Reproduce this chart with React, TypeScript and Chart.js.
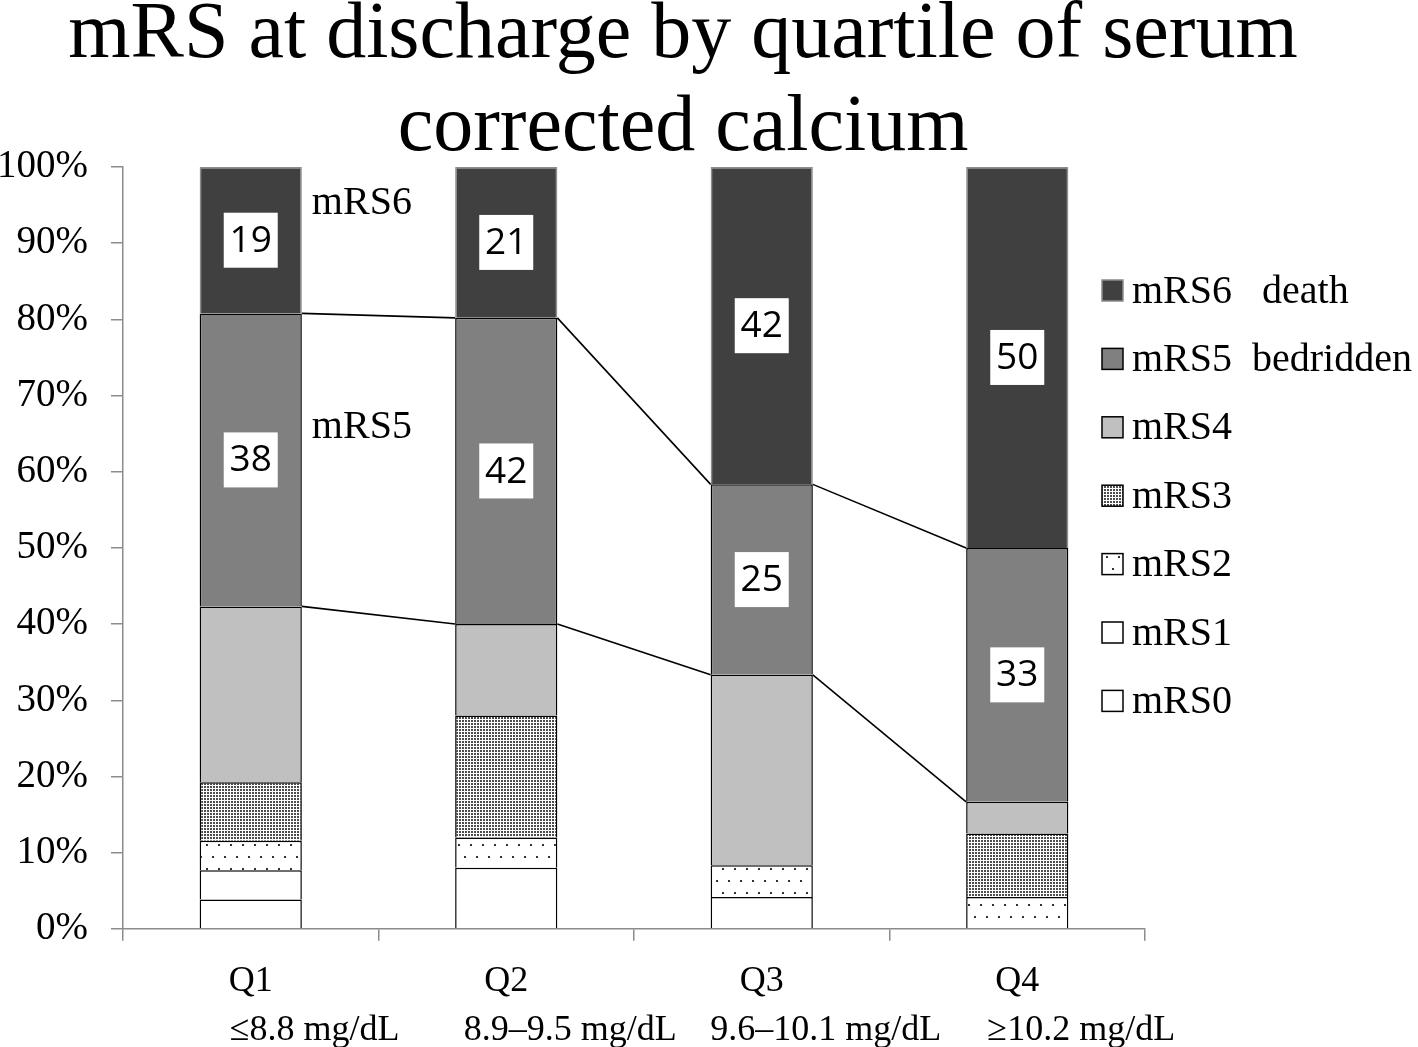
import React, { useEffect, useRef } from "react";
import { Chart, registerables } from "chart.js";

Chart.register(...registerables);

// ---------- data ----------
const categories = ["Q1", "Q2", "Q3", "Q4"];
const rangeLabels = ["≤8.8 mg/dL", "8.9–9.5 mg/dL", "9.6–10.1 mg/dL", "≥10.2 mg/dL"];
const titleLines = ["mRS at discharge by quartile of serum", "corrected calcium"];

const seriesNames = ["mRS0", "mRS1", "mRS2", "mRS3", "mRS4", "mRS5", "mRS6"];
const legendNames = ["mRS0", "mRS1", "mRS2", "mRS3", "mRS4", "mRS5  bedridden", "mRS6   death"];

// percentages of patients in each quartile
const mRS0 = [3.85, 8.0, 4.17, 0];
const mRS1 = [3.85, 0, 0, 0];
const mRS2 = [3.85, 4.0, 4.17, 4.17];
const mRS3 = [7.69, 16.0, 0, 8.33];
const mRS4 = [23.08, 12.0, 25.0, 4.17];
const mRS5 = [38.46, 40.2, 25.0, 33.33];
const mRS6 = [19.22, 19.8, 41.66, 50.0];

// numbers printed in the white boxes
const mRS5Labels = ["38", "42", "25", "33"];
const mRS6Labels = ["19", "21", "42", "50"];

// side annotations next to Q1 (y in %)
const annotationTexts = ["mRS6", "mRS5"];
const annotationValues = [95.2, 65.8];

const yMin = 0;
const yMax = 100;
const yStep = 10;

// ---------- styling ----------
const SERIF = "'Liberation Serif', 'Times New Roman', serif";
const SANS = "'Open Sans', 'Liberation Sans', sans-serif";
const AXIS_GRAY = "#8c8c8c";

function makePattern(kind: "dense" | "sparse"): CanvasPattern | string {
  const c = document.createElement("canvas");
  const g = c.getContext("2d");
  if (!g) return "#fff";
  if (kind === "dense") {
    c.width = 3;
    c.height = 3;
    g.fillStyle = "#ffffff";
    g.fillRect(0, 0, 3, 3);
    g.fillStyle = "#4d4d4d";
    g.fillRect(0, 0, 2, 2);
  } else {
    c.width = 12;
    c.height = 24;
    g.fillStyle = "#ffffff";
    g.fillRect(0, 0, 12, 24);
    g.fillStyle = "#333333";
    g.fillRect(2, 4, 2, 2);
    g.fillRect(8, 16, 2, 2);
  }
  const p = g.createPattern(c, "repeat");
  return p || "#fff";
}

const decorPlugin = {
  id: "decor",
  afterDatasetsDraw(chart: any) {
    const ctx: CanvasRenderingContext2D = chart.ctx;
    const yScale = chart.scales.y;
    const xScale = chart.scales.x;
    ctx.save();

    // connector lines between top of mRS4 and top of mRS5
    ctx.strokeStyle = "#000";
    ctx.lineWidth = 1.6;
    [4, 5].forEach((di) => {
      const meta = chart.getDatasetMeta(di);
      for (let j = 0; j < categories.length - 1; j++) {
        const a = meta.data[j];
        const b = meta.data[j + 1];
        ctx.beginPath();
        ctx.moveTo(a.x + a.width / 2, a.y);
        ctx.lineTo(b.x - b.width / 2, b.y);
        ctx.stroke();
      }
    });

    // value boxes
    const boxW = 54;
    const boxH = 55;
    const drawBoxes = (di: number, labels: string[]) => {
      const meta = chart.getDatasetMeta(di);
      meta.data.forEach((el: any, j: number) => {
        const cx = el.x;
        const cy = (el.y + el.base) / 2;
        ctx.fillStyle = "#ffffff";
        ctx.fillRect(cx - boxW / 2, cy - boxH / 2, boxW, boxH);
        ctx.fillStyle = "#000";
        ctx.font = `37px ${SANS}`;
        ctx.textAlign = "center";
        ctx.textBaseline = "middle";
        ctx.fillText(labels[j], cx, cy + 1);
      });
    };
    drawBoxes(6, mRS6Labels);
    drawBoxes(5, mRS5Labels);

    // annotations beside Q1
    const q1 = chart.getDatasetMeta(6).data[0];
    ctx.font = `40px ${SERIF}`;
    ctx.fillStyle = "#000";
    ctx.textAlign = "left";
    ctx.textBaseline = "middle";
    annotationTexts.forEach((t, i) => {
      ctx.fillText(t, q1.x + q1.width / 2 + 10, yScale.getPixelForValue(annotationValues[i]));
    });

    // second line of x labels (ranges)
    ctx.font = `36px ${SERIF}`;
    ctx.textAlign = "center";
    ctx.textBaseline = "alphabetic";
    rangeLabels.forEach((t, j) => {
      ctx.fillText(t, xScale.getPixelForValue(j) + 64, chart.chartArea.bottom + 111);
    });

    // title
    ctx.font = `80px ${SERIF}`;
    ctx.textAlign = "center";
    ctx.textBaseline = "alphabetic";
    ctx.fillText(titleLines[0], 683, 57);
    ctx.fillText(titleLines[1], 683, 150);

    // legend (reverse order)
    const ds = chart.data.datasets;
    ctx.font = `40px ${SERIF}`;
    ctx.textAlign = "left";
    ctx.textBaseline = "middle";
    for (let r = 0; r < ds.length; r++) {
      const di = ds.length - 1 - r;
      const y = 290 + r * 68.4;
      ctx.fillStyle = ds[di].backgroundColor;
      ctx.fillRect(1102, y - 10, 21, 21);
      ctx.strokeStyle = ds[di].borderColor;
      ctx.lineWidth = 1.5;
      ctx.strokeRect(1102, y - 10, 21, 21);
      ctx.fillStyle = "#000";
      ctx.fillText(legendNames[di], 1132, y + 2);
    }

    ctx.restore();
  },
};

export default function App() {
  const ref = useRef<HTMLCanvasElement | null>(null);

  useEffect(() => {
    document.body.style.margin = "0";
    const canvas = ref.current;
    if (!canvas) return;
    const dense = makePattern("dense");
    const sparse = makePattern("sparse");
    const values = [mRS0, mRS1, mRS2, mRS3, mRS4, mRS5, mRS6];
    const fills: any[] = ["#ffffff", "#ffffff", sparse, dense, "#c0c0c0", "#808080", "#404040"];
    const borders = ["#000", "#000", "#000", "#000", "#000", "#000", "#8c8c8c"];

    const chart = new Chart(canvas, {
      type: "bar",
      data: {
        labels: categories,
        datasets: seriesNames.map((name, i) => ({
          label: name,
          data: values[i],
          backgroundColor: fills[i],
          borderColor: borders[i],
          borderWidth: 1.5,
          borderSkipped: "start",
          categoryPercentage: 1,
          barPercentage: 0.4,
          stack: "s",
        })),
      },
      options: {
        responsive: false,
        animation: false,
        devicePixelRatio: 1,
        layout: { padding: { left: -26, right: 273, top: 167, bottom: 25 } },
        plugins: {
          legend: { display: false },
          title: { display: false },
          tooltip: { enabled: false },
        },
        scales: {
          x: {
            stacked: true,
            grid: {
              display: true,
              drawOnChartArea: false,
              drawTicks: true,
              tickLength: 12,
              color: AXIS_GRAY,
              lineWidth: 1.5,
              offset: true,
            },
            border: { display: true, color: AXIS_GRAY, width: 1.5 },
            ticks: {
              color: "#000",
              font: { family: SERIF, size: 36 },
              padding: 19,
            },
          },
          y: {
            stacked: true,
            min: yMin,
            max: yMax,
            grid: {
              display: true,
              drawOnChartArea: false,
              drawTicks: true,
              tickLength: 12,
              color: AXIS_GRAY,
              lineWidth: 1.5,
            },
            border: { display: true, color: AXIS_GRAY, width: 1.5 },
            ticks: {
              stepSize: yStep,
              color: "#000",
              font: { family: SERIF, size: 39 },
              padding: 23,
              callback: (v: any) => `${v}%`,
            },
          },
        },
      },
      plugins: [decorPlugin],
    });
    return () => chart.destroy();
  }, []);

  return (
    <div style={{ position: "fixed", left: 0, top: 0, width: 1418, height: 1047, background: "#fff" }}>
      <canvas ref={ref} width={1418} height={1047} style={{ display: "block" }} />
    </div>
  );
}
